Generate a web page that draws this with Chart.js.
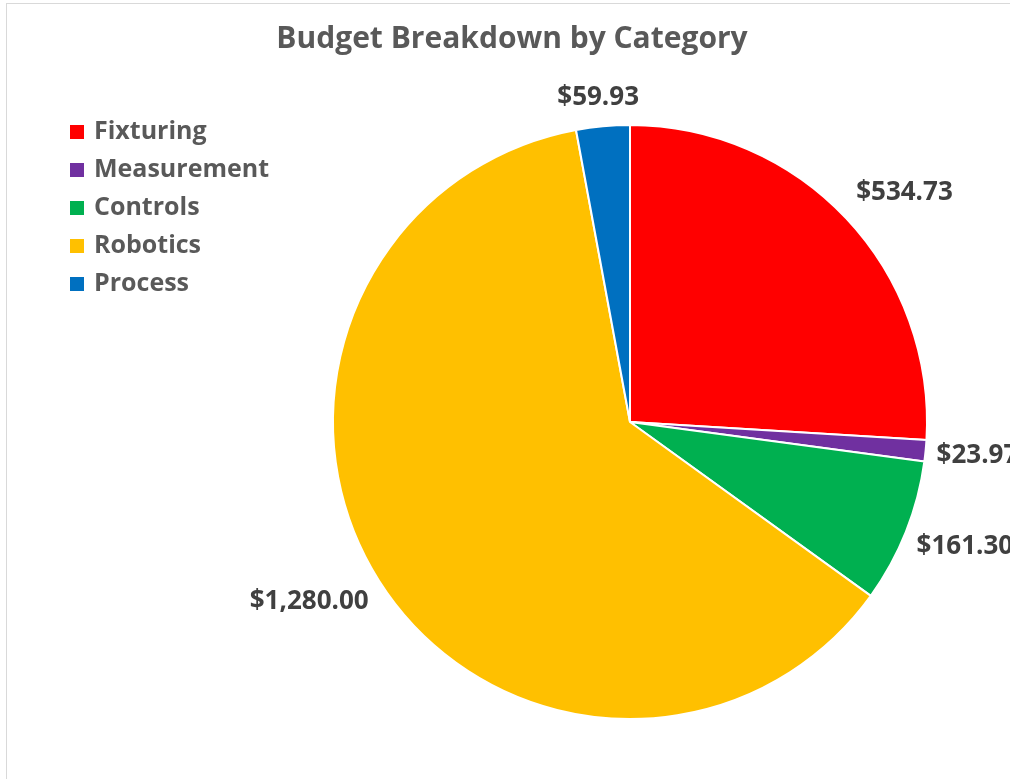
<!DOCTYPE html>
<html>
<head>
<meta charset="utf-8">
<script src="https://cdn.jsdelivr.net/npm/chart.js@4/dist/chart.umd.min.js"></script>
<style>
  html, body { margin: 0; padding: 0; background: #fff; }
  #wrap { width: 1010px; height: 779px; position: relative; }
</style>
</head>
<body>
<div id="wrap"><canvas id="pie_chart" width="1010" height="779"></canvas></div>
<script>
var categories = ["Fixturing", "Measurement", "Controls", "Robotics", "Process"];
var amounts = [534.73, 23.97, 161.30, 1280.00, 59.93];
var sliceColors = ['#FF0000', '#7030A0', '#00B050', '#FFC000', '#0070C0'];
var chartTitle = 'Budget Breakdown by Category';

var FONT = '"Open Sans", "Noto Sans", sans-serif';

function money(v) {
    return '$' + v.toLocaleString('en-US', { minimumFractionDigits: 2, maximumFractionDigits: 2 });
}

// title, frame, legend and value labels are painted by hand
var decorations = {
    id: 'decorations',
    afterDraw: function (chart) {
        var c = chart.ctx;
        c.save();

        // thin chart frame (runs off the right/bottom edge)
        c.strokeStyle = '#d9d9d9';
        c.lineWidth = 1;
        c.strokeRect(6.5, 3.5, 1200, 1000);

        // title
        c.fillStyle = '#595959';
        c.font = 'bold 30px ' + FONT;
        c.textAlign = 'center';
        c.textBaseline = 'middle';
        c.fillText(chartTitle, 512, 39);

        // legend
        c.font = 'bold 25px ' + FONT;
        c.textAlign = 'left';
        var bg = chart.data.datasets[0].backgroundColor;
        chart.data.labels.forEach(function (lbl, i) {
            var y = 132 + i * 38;
            c.fillStyle = bg[i];
            c.fillRect(70, y - 7, 14, 14);
            c.fillStyle = '#595959';
            c.fillText(lbl, 94, y);
        });

        // value labels, outside end of each slice
        c.font = 'bold 26px ' + FONT;
        c.fillStyle = '#404040';
        c.textAlign = 'center';
        var meta = chart.getDatasetMeta(0);
        meta.data.forEach(function (arc, i) {
            var p = arc.getProps(['x', 'y', 'startAngle', 'endAngle', 'outerRadius'], true);
            var mid = (p.startAngle + p.endAngle) / 2;
            var dx = Math.cos(mid), dy = Math.sin(mid);
            var r = p.outerRadius + 4;
            var ax = p.x + dx * r, ay = p.y + dy * r;
            var txt = money(chart.data.datasets[0].data[i]);
            var hw = c.measureText(txt).width / 2 + 7, hh = 13 + 14;
            var m = Math.max(Math.abs(dx), Math.abs(dy));
            c.fillText(txt, ax + dx / m * hw, ay + dy / m * hh + 2);
        });

        c.restore();
    }
};

var ctx = document.getElementById('pie_chart').getContext('2d');
new Chart(ctx, {
    type: 'pie',
    data: {
        labels: categories,
        datasets: [{
            data: amounts,
            backgroundColor: sliceColors,
            borderColor: '#ffffff',
            borderWidth: 2
        }]
    },
    options: {
        responsive: false,
        animation: false,
        layout: { padding: { left: 332, right: 82, top: 124, bottom: 59 } },
        plugins: {
            legend: { display: false },
            title: { display: false },
            tooltip: { enabled: false }
        }
    },
    plugins: [decorations]
});
</script>
</body>
</html>
